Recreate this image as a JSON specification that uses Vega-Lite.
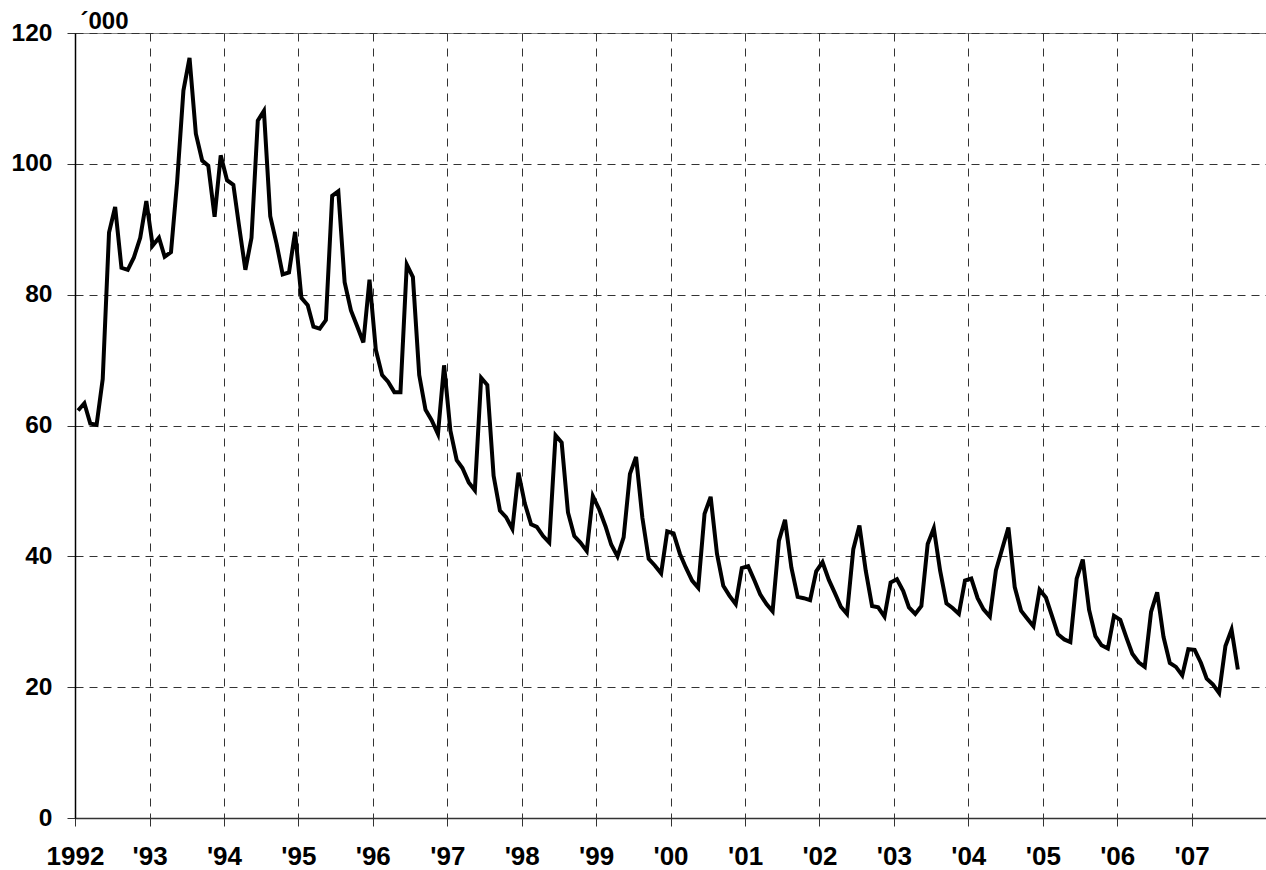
{
  "$schema": "https://vega.github.io/schema/vega-lite/v6.json",
  "width": 1191,
  "height": 785,
  "autosize": {"type": "none"},
  "padding": {"left": 75, "top": 33, "right": 0, "bottom": 52},
  "background": "white",
  "config": {
    "view": {"stroke": "#808080", "strokeWidth": 1},
    "font": "Liberation Sans"
  },
  "data": {
    "values": [
      {"date": "1992-01-16", "v": 62.3}, {"date": "1992-02-16", "v": 63.4}, {"date": "1992-03-16", "v": 60.3}, {"date": "1992-04-16", "v": 60.1}, {"date": "1992-05-16", "v": 67.1}, {"date": "1992-06-16", "v": 89.5}, {"date": "1992-07-16", "v": 93.4}, {"date": "1992-08-16", "v": 84.1}, {"date": "1992-09-16", "v": 83.8}, {"date": "1992-10-16", "v": 85.7}, {"date": "1992-11-16", "v": 88.7}, {"date": "1992-12-16", "v": 94.3},
      {"date": "1993-01-16", "v": 87.5}, {"date": "1993-02-16", "v": 88.7}, {"date": "1993-03-16", "v": 85.8}, {"date": "1993-04-16", "v": 86.5}, {"date": "1993-05-16", "v": 97.2}, {"date": "1993-06-16", "v": 111.2}, {"date": "1993-07-16", "v": 116.2}, {"date": "1993-08-16", "v": 104.6}, {"date": "1993-09-16", "v": 100.5}, {"date": "1993-10-16", "v": 99.7}, {"date": "1993-11-16", "v": 91.9}, {"date": "1993-12-16", "v": 101.3},
      {"date": "1994-01-16", "v": 97.5}, {"date": "1994-02-16", "v": 96.8}, {"date": "1994-03-16", "v": 90.5}, {"date": "1994-04-16", "v": 83.8}, {"date": "1994-05-16", "v": 88.7}, {"date": "1994-06-16", "v": 106.6}, {"date": "1994-07-16", "v": 108.1}, {"date": "1994-08-16", "v": 92.0}, {"date": "1994-09-16", "v": 87.8}, {"date": "1994-10-16", "v": 83.1}, {"date": "1994-11-16", "v": 83.4}, {"date": "1994-12-16", "v": 89.6},
      {"date": "1995-01-16", "v": 79.5}, {"date": "1995-02-16", "v": 78.4}, {"date": "1995-03-16", "v": 75.1}, {"date": "1995-04-16", "v": 74.8}, {"date": "1995-05-16", "v": 76.1}, {"date": "1995-06-16", "v": 95.1}, {"date": "1995-07-16", "v": 95.8}, {"date": "1995-08-16", "v": 81.9}, {"date": "1995-09-16", "v": 77.6}, {"date": "1995-10-16", "v": 75.2}, {"date": "1995-11-16", "v": 72.7}, {"date": "1995-12-16", "v": 82.3},
      {"date": "1996-01-16", "v": 71.6}, {"date": "1996-02-16", "v": 67.7}, {"date": "1996-03-16", "v": 66.7}, {"date": "1996-04-16", "v": 65.1}, {"date": "1996-05-16", "v": 65.1}, {"date": "1996-06-16", "v": 84.6}, {"date": "1996-07-16", "v": 82.7}, {"date": "1996-08-16", "v": 67.7}, {"date": "1996-09-16", "v": 62.4}, {"date": "1996-10-16", "v": 60.8}, {"date": "1996-11-16", "v": 58.7}, {"date": "1996-12-16", "v": 69.2},
      {"date": "1997-01-16", "v": 59.2}, {"date": "1997-02-16", "v": 54.7}, {"date": "1997-03-16", "v": 53.5}, {"date": "1997-04-16", "v": 51.3}, {"date": "1997-05-16", "v": 50.1}, {"date": "1997-06-16", "v": 67.3}, {"date": "1997-07-16", "v": 66.2}, {"date": "1997-08-16", "v": 52.3}, {"date": "1997-09-16", "v": 47.0}, {"date": "1997-10-16", "v": 46.0}, {"date": "1997-11-16", "v": 44.2}, {"date": "1997-12-16", "v": 52.8},
      {"date": "1998-01-16", "v": 48.1}, {"date": "1998-02-16", "v": 44.9}, {"date": "1998-03-16", "v": 44.5}, {"date": "1998-04-16", "v": 43.1}, {"date": "1998-05-16", "v": 42.1}, {"date": "1998-06-16", "v": 58.5}, {"date": "1998-07-16", "v": 57.4}, {"date": "1998-08-16", "v": 46.7}, {"date": "1998-09-16", "v": 43.1}, {"date": "1998-10-16", "v": 42.1}, {"date": "1998-11-16", "v": 40.8}, {"date": "1998-12-16", "v": 49.2},
      {"date": "1999-01-16", "v": 47.2}, {"date": "1999-02-16", "v": 44.6}, {"date": "1999-03-16", "v": 41.8}, {"date": "1999-04-16", "v": 40.0}, {"date": "1999-05-16", "v": 42.9}, {"date": "1999-06-16", "v": 52.6}, {"date": "1999-07-16", "v": 55.2}, {"date": "1999-08-16", "v": 45.9}, {"date": "1999-09-16", "v": 39.6}, {"date": "1999-10-16", "v": 38.6}, {"date": "1999-11-16", "v": 37.4}, {"date": "1999-12-16", "v": 43.8},
      {"date": "2000-01-16", "v": 43.5}, {"date": "2000-02-16", "v": 40.4}, {"date": "2000-03-16", "v": 38.3}, {"date": "2000-04-16", "v": 36.3}, {"date": "2000-05-16", "v": 35.2}, {"date": "2000-06-16", "v": 46.5}, {"date": "2000-07-16", "v": 49.1}, {"date": "2000-08-16", "v": 40.4}, {"date": "2000-09-16", "v": 35.5}, {"date": "2000-10-16", "v": 34.0}, {"date": "2000-11-16", "v": 32.7}, {"date": "2000-12-16", "v": 38.2},
      {"date": "2001-01-16", "v": 38.5}, {"date": "2001-02-16", "v": 36.3}, {"date": "2001-03-16", "v": 34.2}, {"date": "2001-04-16", "v": 32.7}, {"date": "2001-05-16", "v": 31.6}, {"date": "2001-06-16", "v": 42.4}, {"date": "2001-07-16", "v": 45.6}, {"date": "2001-08-16", "v": 38.3}, {"date": "2001-09-16", "v": 33.8}, {"date": "2001-10-16", "v": 33.6}, {"date": "2001-11-16", "v": 33.3}, {"date": "2001-12-16", "v": 37.7},
      {"date": "2002-01-16", "v": 39.1}, {"date": "2002-02-16", "v": 36.4}, {"date": "2002-03-16", "v": 34.5}, {"date": "2002-04-16", "v": 32.3}, {"date": "2002-05-16", "v": 31.2}, {"date": "2002-06-16", "v": 41.1}, {"date": "2002-07-16", "v": 44.7}, {"date": "2002-08-16", "v": 37.8}, {"date": "2002-09-16", "v": 32.4}, {"date": "2002-10-16", "v": 32.2}, {"date": "2002-11-16", "v": 30.8}, {"date": "2002-12-16", "v": 36.0},
      {"date": "2003-01-16", "v": 36.5}, {"date": "2003-02-16", "v": 34.7}, {"date": "2003-03-16", "v": 32.2}, {"date": "2003-04-16", "v": 31.2}, {"date": "2003-05-16", "v": 32.4}, {"date": "2003-06-16", "v": 41.9}, {"date": "2003-07-16", "v": 44.3}, {"date": "2003-08-16", "v": 37.8}, {"date": "2003-09-16", "v": 32.8}, {"date": "2003-10-16", "v": 32.1}, {"date": "2003-11-16", "v": 31.2}, {"date": "2003-12-16", "v": 36.3},
      {"date": "2004-01-16", "v": 36.6}, {"date": "2004-02-16", "v": 33.6}, {"date": "2004-03-16", "v": 31.9}, {"date": "2004-04-16", "v": 30.8}, {"date": "2004-05-16", "v": 37.9}, {"date": "2004-06-16", "v": 41.2}, {"date": "2004-07-16", "v": 44.4}, {"date": "2004-08-16", "v": 35.3}, {"date": "2004-09-16", "v": 31.7}, {"date": "2004-10-16", "v": 30.5}, {"date": "2004-11-16", "v": 29.3}, {"date": "2004-12-16", "v": 34.9},
      {"date": "2005-01-16", "v": 33.7}, {"date": "2005-02-16", "v": 30.8}, {"date": "2005-03-16", "v": 28.1}, {"date": "2005-04-16", "v": 27.3}, {"date": "2005-05-16", "v": 26.9}, {"date": "2005-06-16", "v": 36.6}, {"date": "2005-07-16", "v": 39.5}, {"date": "2005-08-16", "v": 31.8}, {"date": "2005-09-16", "v": 27.8}, {"date": "2005-10-16", "v": 26.4}, {"date": "2005-11-16", "v": 25.9}, {"date": "2005-12-16", "v": 30.9},
      {"date": "2006-01-16", "v": 30.3}, {"date": "2006-02-16", "v": 27.5}, {"date": "2006-03-16", "v": 25.1}, {"date": "2006-04-16", "v": 23.8}, {"date": "2006-05-16", "v": 23.1}, {"date": "2006-06-16", "v": 31.5}, {"date": "2006-07-16", "v": 34.5}, {"date": "2006-08-16", "v": 27.7}, {"date": "2006-09-16", "v": 23.7}, {"date": "2006-10-16", "v": 23.1}, {"date": "2006-11-16", "v": 21.8}, {"date": "2006-12-16", "v": 25.8},
      {"date": "2007-01-16", "v": 25.7}, {"date": "2007-02-16", "v": 23.7}, {"date": "2007-03-16", "v": 21.3}, {"date": "2007-04-16", "v": 20.4}, {"date": "2007-05-16", "v": 19.1}, {"date": "2007-06-16", "v": 26.3}, {"date": "2007-07-16", "v": 28.8}, {"date": "2007-08-16", "v": 22.7}
    ]
  },
  "mark": {"type": "line", "color": "black", "strokeWidth": 4, "strokeJoin": "miter", "strokeMiterLimit": 4},
  "encoding": {
    "x": {
      "field": "date",
      "type": "temporal",
      "scale": {
        "type": "utc",
        "domain": [{"year": 1992, "month": 1, "date": 1, "utc": true}, {"year": 2008, "month": 1, "date": 1, "utc": true}]
      },
      "axis": {
        "title": null,
        "values": [
          {"year": 1992, "month": 1, "date": 1, "utc": true}, {"year": 1993, "month": 1, "date": 1, "utc": true},
          {"year": 1994, "month": 1, "date": 1, "utc": true}, {"year": 1995, "month": 1, "date": 1, "utc": true},
          {"year": 1996, "month": 1, "date": 1, "utc": true}, {"year": 1997, "month": 1, "date": 1, "utc": true},
          {"year": 1998, "month": 1, "date": 1, "utc": true}, {"year": 1999, "month": 1, "date": 1, "utc": true},
          {"year": 2000, "month": 1, "date": 1, "utc": true}, {"year": 2001, "month": 1, "date": 1, "utc": true},
          {"year": 2002, "month": 1, "date": 1, "utc": true}, {"year": 2003, "month": 1, "date": 1, "utc": true},
          {"year": 2004, "month": 1, "date": 1, "utc": true}, {"year": 2005, "month": 1, "date": 1, "utc": true},
          {"year": 2006, "month": 1, "date": 1, "utc": true}, {"year": 2007, "month": 1, "date": 1, "utc": true}
        ],
        "labelExpr": "utcFormat(datum.value, '%Y') == '1992' ? '1992' : \"'\" + utcFormat(datum.value, '%y')",
        "labelFont": "Liberation Sans",
        "labelFontWeight": "bold",
        "labelFontSize": 26,
        "labelColor": "black",
        "labelPadding": 17,
        "labelOverlap": false,
        "labelFlush": false,
        "domainColor": "#333333",
        "domainWidth": 1.5,
        "tickColor": "#333333",
        "tickSize": 8,
        "tickWidth": 1,
        "grid": true,
        "gridColor": "#333333",
        "gridDash": [8, 7],
        "gridWidth": 1
      }
    },
    "y": {
      "field": "v",
      "type": "quantitative",
      "scale": {"domain": [0, 120], "nice": false, "zero": true},
      "axis": {
        "values": [0, 20, 40, 60, 80, 100, 120],
        "title": "´000",
        "titleAngle": 0,
        "titleX": 5,
        "titleY": -5,
        "titleAlign": "left",
        "titleBaseline": "alphabetic",
        "titleFont": "Liberation Sans",
        "titleFontWeight": "bold",
        "titleFontSize": 24,
        "titleColor": "black",
        "labelFont": "Liberation Sans",
        "labelFontWeight": "bold",
        "labelFontSize": 24.5,
        "labelColor": "black",
        "labelPadding": 15,
        "domainColor": "black",
        "domainWidth": 1.5,
        "tickColor": "#333333",
        "tickSize": 8,
        "tickWidth": 1,
        "grid": true,
        "gridColor": "#333333",
        "gridDash": [8, 6],
        "gridWidth": 1
      }
    }
  }
}
